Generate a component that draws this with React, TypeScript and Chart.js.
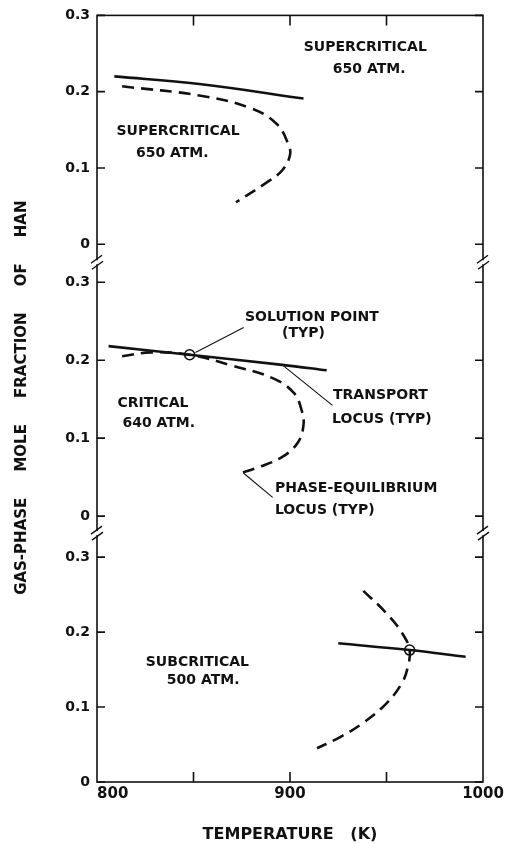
import React, { useEffect, useRef } from 'react';
import { Chart, registerables } from 'chart.js';

Chart.register(...registerables);

// ---- axis ticks ----
const xTickValues = [800, 850, 900, 950, 1000];
const xTickLabels = ['      800', '', '900', '', '1000'];
const yTickValues = [0, 0.1, 0.2, 0.3];
const yTickLabels = ['0', '0.1', '0.2', '0.3'];

// ---- top panel: supercritical 650 atm ----
const superTransportT = [809, 853, 907];
const superTransportY = [0.22, 0.21, 0.191];
const superPhaseT = [813, 853, 879, 893, 899, 900, 896, 888, 872];
const superPhaseY = [0.207, 0.195, 0.179, 0.158, 0.132, 0.117, 0.097, 0.081, 0.055];

// ---- middle panel: critical 640 atm ----
const critTransportT = [806, 848, 896, 919];
const critTransportY = [0.218, 0.207, 0.194, 0.187];
const critPhaseT = [813, 828, 848, 870, 891, 902, 906, 907, 904, 896, 884, 873];
const critPhaseY = [0.205, 0.21, 0.207, 0.193, 0.177, 0.158, 0.136, 0.117, 0.094, 0.076, 0.063, 0.054];
const critSolutionT = [848];
const critSolutionY = [0.207];

// ---- bottom panel: subcritical 500 atm ----
const subTransportT = [925, 962, 991];
const subTransportY = [0.185, 0.176, 0.167];
const subPhaseT = [938, 950, 958, 962, 961, 958, 950, 938, 926, 914];
const subPhaseY = [0.255, 0.225, 0.199, 0.176, 0.153, 0.132, 0.105, 0.079, 0.06, 0.045];
const subSolutionT = [962];
const subSolutionY = [0.176];

// ---- leader lines (middle panel) ----
const leaderSolutionT = [851, 876];
const leaderSolutionY = [0.21, 0.242];
const leaderTransportT = [896, 922];
const leaderTransportY = [0.194, 0.142];
const leaderPhaseT = [876, 891];
const leaderPhaseY = [0.055, 0.024];

// ---- annotations ----
const annText = [
  'SUPERCRITICAL', '650 ATM.', 'SUPERCRITICAL', '650 ATM.',
  'SOLUTION POINT', '(TYP)', 'TRANSPORT', 'LOCUS (TYP)', 'CRITICAL', '640 ATM.',
  'PHASE-EQUILIBRIUM', 'LOCUS (TYP)',
  'SUBCRITICAL', '500 ATM.',
];
const annT = [939, 941, 842, 839, 876.7, 895.9, 922.3, 921.8, 829, 832, 892.2, 892.2, 852, 855];
const annY = [0.258, 0.229, 0.148, 0.119, 0.255, 0.235, 0.155, 0.124, 0.145, 0.119, 0.035, 0.008, 0.159, 0.135];
const annPanel = ['yTop', 'yTop', 'yTop', 'yTop', 'yMid', 'yMid', 'yMid', 'yMid', 'yMid', 'yMid', 'yMid', 'yMid', 'yBot', 'yBot'];
const annAlign = ['center', 'center', 'center', 'center', 'left', 'left', 'left', 'left', 'center', 'center', 'left', 'left', 'center', 'center'];

const INK = '#111';
const FONT = '"DejaVu Sans", sans-serif';

const pts = (t: number[], y: number[]) => t.map((v, i) => ({ x: v, y: y[i] }));

const solid = (t: number[], y: number[], axis: string) => ({
  data: pts(t, y), yAxisID: axis, xAxisID: 'x', showLine: true, borderColor: INK,
  borderWidth: 2.6, pointRadius: 0, tension: 0.4, fill: false, order: 2,
});
const dashed = (t: number[], y: number[], axis: string) => ({
  data: pts(t, y), yAxisID: axis, xAxisID: 'x', showLine: true, borderColor: INK,
  borderWidth: 2.6, borderDash: [12, 7], pointRadius: 0, tension: 0.4, fill: false, order: 2,
});
const leader = (t: number[], y: number[], axis: string) => ({
  data: pts(t, y), yAxisID: axis, xAxisID: 'x', showLine: true, borderColor: INK,
  borderWidth: 1.1, pointRadius: 0, tension: 0, fill: false, order: 2,
});
const circle = (t: number[], y: number[], axis: string) => ({
  data: pts(t, y), yAxisID: axis, xAxisID: 'x', showLine: false, pointRadius: 5,
  pointBorderWidth: 1.6, pointBorderColor: INK, pointBackgroundColor: 'rgba(0,0,0,0)',
  order: 1,
});

const yAxis = (min: number, max: number, weight: number, stackWeight: number, title?: string) => ({
  type: 'linear',
  position: 'left',
  stack: 'panels',
  stackWeight,
  weight,
  min,
  max,
  grid: { display: false, drawTicks: false },
  border: { display: false },
  afterBuildTicks: (s: any) => { s.ticks = yTickValues.map((v) => ({ value: v })); },
  afterFit: (s: any) => { s.width = 97; },
  ticks: {
    autoSkip: false,
    padding: 7,
    color: INK,
    font: { family: FONT, size: 14, weight: 'bold' },
    callback: (_v: any, i: number) => yTickLabels[i],
  },
  title: title
    ? { display: true, text: title, color: INK, font: { family: FONT, size: 15, weight: 'bold' }, padding: { top: 13, bottom: 0 } }
    : { display: false },
});

const framePlugin = {
  id: 'framePlugin',
  afterDraw(chart: any) {
    const { ctx, chartArea } = chart;
    const { left, right, top, bottom } = chartArea;
    ctx.save();
    ctx.strokeStyle = INK;
    ctx.lineWidth = 1.6;
    ctx.lineCap = 'butt';
    ctx.strokeRect(left, top, right - left, bottom - top);
    // inward y ticks
    ['yTop', 'yMid', 'yBot'].forEach((id) => {
      const s = chart.scales[id];
      s.ticks.forEach((t: any) => {
        const py = s.getPixelForValue(t.value);
        ctx.beginPath();
        ctx.moveTo(left, py); ctx.lineTo(left + 8, py);
        ctx.moveTo(right - 8, py); ctx.lineTo(right, py);
        ctx.stroke();
      });
    });
    // inward x ticks (top and bottom)
    const xs = chart.scales.x;
    xs.ticks.forEach((t: any, i: number) => {
      if (i === 0 || i === xs.ticks.length - 1) return;
      const px = xs.getPixelForValue(t.value);
      ctx.beginPath();
      ctx.moveTo(px, bottom); ctx.lineTo(px, bottom - 10);
      ctx.moveTo(px, top); ctx.lineTo(px, top + 10);
      ctx.stroke();
    });
    // axis breaks
    [chart.scales.yTop.bottom, chart.scales.yMid.bottom].forEach((by: number) => {
      [left, right].forEach((bx: number) => {
        ctx.fillStyle = '#fff';
        ctx.fillRect(bx - 2, by - 2, 4, 4);
        ctx.beginPath();
        ctx.moveTo(bx - 6, by + 1); ctx.lineTo(bx + 5, by - 7);
        ctx.moveTo(bx - 5, by + 7); ctx.lineTo(bx + 6, by - 1);
        ctx.lineWidth = 1.4;
        ctx.stroke();
      });
    });
    // annotations
    ctx.fillStyle = INK;
    ctx.font = `bold 14px ${FONT}`;
    ctx.textBaseline = 'middle';
    annText.forEach((txt, i) => {
      const ys = chart.scales[annPanel[i]];
      ctx.textAlign = annAlign[i];
      ctx.fillText(txt, xs.getPixelForValue(annT[i]), ys.getPixelForValue(annY[i]));
    });
    ctx.restore();
  },
};

export default function App() {
  const ref = useRef<HTMLCanvasElement>(null);
  useEffect(() => {
    if (!ref.current) return;
    const chart = new Chart(ref.current, {
      type: 'scatter',
      data: {
        datasets: [
          solid(superTransportT, superTransportY, 'yTop'),
          dashed(superPhaseT, superPhaseY, 'yTop'),
          solid(critTransportT, critTransportY, 'yMid'),
          dashed(critPhaseT, critPhaseY, 'yMid'),
          circle(critSolutionT, critSolutionY, 'yMid'),
          leader(leaderSolutionT, leaderSolutionY, 'yMid'),
          leader(leaderTransportT, leaderTransportY, 'yMid'),
          leader(leaderPhaseT, leaderPhaseY, 'yMid'),
          solid(subTransportT, subTransportY, 'yBot'),
          dashed(subPhaseT, subPhaseY, 'yBot'),
          circle(subSolutionT, subSolutionY, 'yBot'),
        ] as any,
      },
      options: {
        animation: false,
        responsive: false,
        events: [],
        layout: { padding: { top: 15, right: 33, bottom: 0, left: 0 } },
        plugins: { legend: { display: false }, tooltip: { enabled: false } },
        scales: {
          x: {
            type: 'linear',
            position: 'bottom',
            min: 800,
            max: 1000,
            grid: { display: false, drawTicks: false },
            border: { display: false },
            afterBuildTicks: (s: any) => { s.ticks = xTickValues.map((v) => ({ value: v })); },
            afterFit: (s: any) => { s.height = 62; },
            ticks: {
              autoSkip: false,
              maxRotation: 0,
              padding: 3,
              color: INK,
              font: { family: FONT, size: 15, weight: 'bold' },
              callback: (_v: any, i: number) => xTickLabels[i],
            },
            title: {
              display: true,
              text: 'TEMPERATURE   (K)',
              color: INK,
              font: { family: FONT, size: 16, weight: 'bold' },
              padding: { top: 0, bottom: 0 },
            },
          },
          yTop: yAxis(-0.0237, 0.3, 3, 247),
          yMid: yAxis(-0.0218, 0.3256, 2, 271, 'GAS-PHASE     MOLE     FRACTION     OF     HAN'),
          yBot: yAxis(0, 0.332, 1, 249),
        } as any,
      },
      plugins: [framePlugin],
    });
    return () => chart.destroy();
  }, []);
  return (
    <div style={{ position: 'fixed', left: 0, top: 0, width: 516, height: 844, background: '#fff' }}>
      <canvas ref={ref} width={516} height={844} style={{ display: 'block' }} />
    </div>
  );
}
